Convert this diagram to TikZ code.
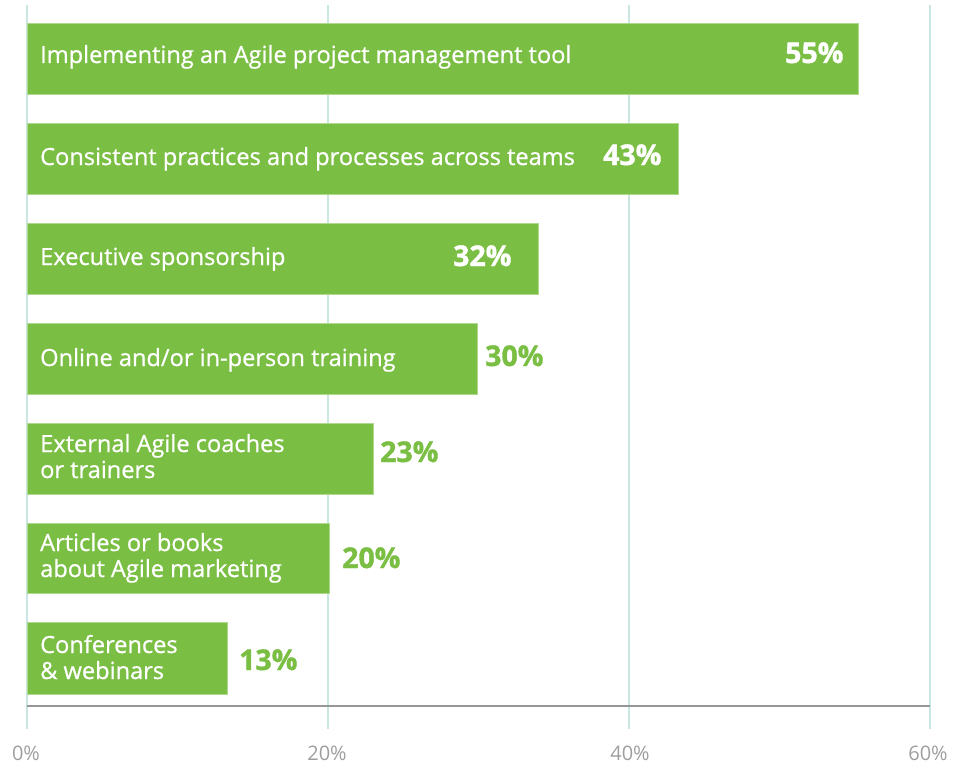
\documentclass[tikz,border=0pt]{standalone}
\usepackage{fontspec}
\setmainfont{Open Sans}
\newfontfamily\labelfont{Open Sans}[FakeBold=0.8]
\newfontfamily\pctfont{Open Sans}[BoldFeatures={FakeBold=1.3}]
\definecolor{barGreen}{RGB}{122,190,68}
\definecolor{gridTeal}{RGB}{202,230,226}
\definecolor{axisGray}{RGB}{150,150,150}
\definecolor{tickGray}{RGB}{158,158,158}
\begin{document}
\begin{tikzpicture}%
	[
	x=1pt,
	y=-1pt,
	gridline/.style={color=gridTeal, line width=1.5pt},
	axisline/.style={color=axisGray, line width=2pt},
	bar/.style={fill=barGreen, draw=barGreen!60!white, line width=0.6pt},
	barlabel/.style={anchor=base west, inner sep=0pt, text=white, align=left, font=\labelfont\fontsize{23.6}{26}\selectfont},
	pctin/.style={anchor=base west, inner sep=0pt, text=white, font=\pctfont\bfseries\fontsize{28.5}{30}\selectfont},
	pctout/.style={anchor=base west, inner sep=0pt, text=barGreen, font=\pctfont\bfseries\fontsize{28.5}{30}\selectfont},
	ticklabel/.style={anchor=base, inner sep=0pt, text=tickGray, font=\fontsize{20}{22}\selectfont}]

\useasboundingbox (0,0) rectangle (963,765);

\coordinate (g0top) at (27,5);
\coordinate (g0bot) at (27,729);
\coordinate (g20top) at (328,5);
\coordinate (g20bot) at (328,729);
\coordinate (g40top) at (629,5);
\coordinate (g40bot) at (629,729);
\coordinate (g60top) at (930,5);
\coordinate (g60bot) at (930,729);

\draw[gridline] (g0top) -- (g0bot);
\draw[gridline] (g20top) -- (g20bot);
\draw[gridline] (g40top) -- (g40bot);
\draw[gridline] (g60top) -- (g60bot);

\filldraw[bar] (27,23) rectangle (858,94);
\filldraw[bar] (27,123) rectangle (678,194);
\filldraw[bar] (27,223) rectangle (538,294);
\filldraw[bar] (27,323) rectangle (477,394);
\filldraw[bar] (27,423) rectangle (373,494);
\filldraw[bar] (27,523) rectangle (329,593);
\filldraw[bar] (27,622) rectangle (227,694);

\draw[axisline] (g0bot |- 0,706) -- (g60bot |- 0,706);

\node[barlabel] (l1) at (40,63) {Implementing an Agile project management tool};
\node[barlabel] (l2) at (40,165) {Consistent practices and processes across teams};
\node[barlabel] (l3) at (40,265) {Executive sponsorship};
\node[barlabel] (l4) at (40,366) {Online and/or in-person training};
\node[barlabel] (l5) at (40,478) {External Agile coaches\\or trainers};
\node[barlabel] (l6) at (40,577) {Articles or books\\about Agile marketing};
\node[barlabel] (l7) at (40,679) {Conferences\\\& webinars};

\node[pctin] (p1) at (785,63) {55\%};
\node[pctin] (p2) at (603,165) {43\%};
\node[pctin] (p3) at (453,266) {32\%};
\node[pctout] (p4) at (485,366) {30\%};
\node[pctout] (p5) at (380,462) {23\%};
\node[pctout] (p6) at (342,568) {20\%};
\node[pctout] (p7) at (239,670) {13\%};

\node[ticklabel] (t0) at (26,760) {0\%};
\node[ticklabel] (t20) at (327,760) {20\%};
\node[ticklabel] (t40) at (630,760) {40\%};
\node[ticklabel] (t60) at (928,760) {60\%};
\end{tikzpicture}
\end{document}
